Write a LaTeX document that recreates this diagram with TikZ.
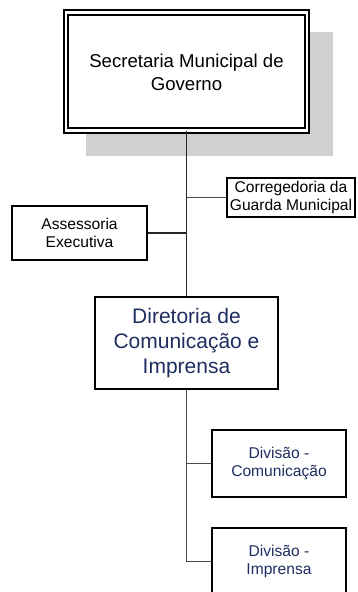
\documentclass[tikz,border=0pt]{standalone}
\usepackage{fontspec}
\setmainfont{Liberation Sans}
\usetikzlibrary{calc}
\definecolor{navytext}{RGB}{31,46,96}
\definecolor{shadowgray}{RGB}{208,208,208}

\begin{document}
\begin{tikzpicture}[x=1pt, y=-1pt,
    orgbox/.style={draw, fill=white, line width=1.8pt, align=center, inner sep=0pt},
    smallbox/.style={orgbox, font=\fontsize{15.6}{18.3}\selectfont},
    divbox/.style={smallbox, text=navytext, minimum width=134pt, minimum height=67pt},
    mainline/.style={line width=1.5pt, black!85},
    subline/.style={line width=1.1pt, black!70}]
			%%%%% START %%%%%
			\clip (0, 0) rectangle (358, 592);
			
			% shadow of the top box
			\fill[shadowgray] (86, 32) rectangle (333, 156);
			
			\node[orgbox, double=white, line width=1.9pt, double distance=2.4pt,
			      minimum width=241pt, minimum height=118pt,
			      font=\fontsize{18.6}{23}\selectfont] (secretaria) at (186.5, 71.5)
			      {\rule{0pt}{15pt}Secretaria Municipal de\\Governo};
			
			\node[smallbox, line width=1.4pt, minimum width=128pt, minimum height=39pt]
			      (corregedoria) at (291, 197.5) {Corregedoria da\\Guarda Municipal};
			\node[smallbox, minimum width=135pt, minimum height=54pt]
			      (assessoria) at (79.5, 233) {Assessoria\\Executiva};
			
			\node[orgbox, text=navytext, minimum width=183pt, minimum height=92pt,
			      font=\fontsize{21}{25}\selectfont] (diretoria) at (186.5, 343)
			      {Diretoria de\\Comunica\c{c}\~ao e\\Imprensa};
			
			\node[divbox] (divcom) at (279, 463.5) {Divis\~ao -\\Comunica\c{c}\~ao};
			\node[divbox] (divimp) at (279, 561.5) {Divis\~ao -\\Imprensa};
			
			% connectors
			\draw[mainline] (secretaria.south) -- (diretoria.north);
			\draw[subline] (secretaria.south |- corregedoria.west) -- (corregedoria.west);
			\draw[mainline] (assessoria.east) -- (assessoria.east -| secretaria.south);
			
			\draw[subline] (diretoria.south) |- (divimp.west);
			\draw[subline] (diretoria.south |- divcom.west) -- (divcom.west);
			
			%%%%% END %%%%%
\end{tikzpicture}
\end{document}
